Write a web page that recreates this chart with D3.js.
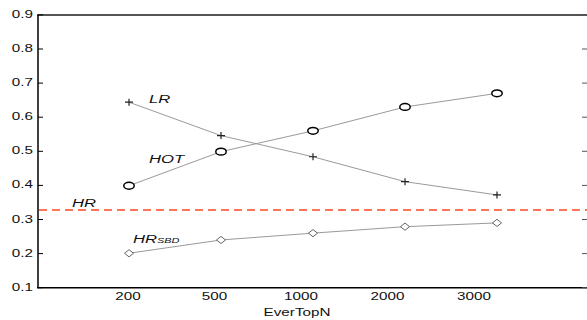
<!DOCTYPE html>
<html>
<head>
<meta charset="utf-8">
<script src="https://cdn.jsdelivr.net/npm/d3@7/dist/d3.min.js"></script>
<style>
  body { margin: 0; background: #fff; }
  svg { display: block; }
  text { font-family: "Liberation Sans", Arial, Helvetica, sans-serif; }
</style>
</head>
<body>
<script>
// EverTopN vs. value, four methods
const categories = ['200', '500', '1000', '2000', '3000']
const lrValues = [0.644, 0.546, 0.484, 0.411, 0.372]
const hotValues = [0.399, 0.499, 0.560, 0.630, 0.670]
const sbdValues = [0.201, 0.240, 0.260, 0.279, 0.290]
const hrValue = 0.328
const yTicks = [0.1, 0.2, 0.3, 0.4, 0.5, 0.6, 0.7, 0.8, 0.9]

const W = 587
const H = 320
const SX = 1.45 // the picture is stretched sideways, text too

const svg = d3.select('body').append('svg')
  .attr('width', W)
  .attr('height', H)

// index 1..5 are the points, 0 and 6 are the empty ends
const x = d3.scaleLinear().domain([0, 6]).range([37, 589])
const xLab = d3.scaleLinear().domain([1, 5]).range([128, 474])
const y = d3.scaleLinear().domain([0.1, 0.9]).range([287.7, 14.9])

function txt (px, py, s, size, anchor, italic) {
  return svg.append('text')
    .attr('transform', `translate(${px},${py}) scale(${SX},1)`)
    .attr('font-size', size + 'px')
    .attr('text-anchor', anchor || 'start')
    .attr('font-style', italic ? 'italic' : 'normal')
    .attr('fill', '#111')
    .text(s)
}

// frame
svg.append('line')
  .attr('x1', x(0)).attr('x2', W).attr('y1', y(0.9)).attr('y2', y(0.9))
  .attr('stroke', '#555').attr('stroke-width', 2)
svg.append('line')
  .attr('x1', x(0) + 1).attr('x2', x(0) + 1).attr('y1', y(0.9)).attr('y2', y(0.1))
  .attr('stroke', '#000').attr('stroke-width', 1.5)
svg.append('line')
  .attr('x1', x(0)).attr('x2', W).attr('y1', y(0.1)).attr('y2', y(0.1))
  .attr('stroke', '#000').attr('stroke-width', 1.5)

// y ticks: inside on the left, and on the right edge
yTicks.forEach((t) => {
  svg.append('line')
    .attr('x1', x(0) + 1).attr('x2', x(0) + 6).attr('y1', y(t)).attr('y2', y(t))
    .attr('stroke', '#000').attr('stroke-width', 1)
  svg.append('line')
    .attr('x1', W - 5).attr('x2', W).attr('y1', y(t)).attr('y2', y(t))
    .attr('stroke', '#555').attr('stroke-width', 1)
  txt(33, y(t) + 3, t.toFixed(1), 10.5, 'end')
})

// x tick labels and title
categories.forEach((c, i) => {
  txt(xLab(i + 1), 300, c, 10.5, 'middle')
})
txt(297, 316, 'EverTopN', 10.5, 'middle')

// HR baseline
svg.append('line')
  .attr('x1', x(0) + 2).attr('x2', W).attr('y1', y(hrValue)).attr('y2', y(hrValue))
  .attr('stroke', '#ff4a26').attr('stroke-width', 1.4)
  .attr('stroke-dasharray', '8,5')

const line = d3.line()
  .x((d, i) => x(i + 1))
  .y((d) => y(d))

const series = [
  { name: 'LR', values: lrValues, marker: 'plus' },
  { name: 'HOT', values: hotValues, marker: 'circle' },
  { name: 'SBD', values: sbdValues, marker: 'diamond' }
]

series.forEach((s) => {
  svg.append('path')
    .datum(s.values)
    .attr('d', line)
    .attr('fill', 'none')
    .attr('stroke', '#9a9a9a')
    .attr('stroke-width', 1)

  const g = svg.selectAll('.m-' + s.name)
    .data(s.values)
    .enter()
    .append('g')
    .attr('class', 'm-' + s.name)
    .attr('transform', (d, i) => `translate(${x(i + 1)},${y(d)})`)

  if (s.marker === 'plus') {
    g.append('path')
      .attr('d', 'M-4,0H4M0,-3.5V3.5')
      .attr('stroke', '#222').attr('stroke-width', 1.2)
  } else if (s.marker === 'circle') {
    g.append('ellipse')
      .attr('rx', 5.2).attr('ry', 3.4)
      .attr('fill', '#fff').attr('stroke', '#000').attr('stroke-width', 1.5)
  } else {
    g.append('path')
      .attr('d', 'M-4.5,0L0,-3.6L4.5,0L0,3.6Z')
      .attr('fill', '#fff').attr('stroke', '#666').attr('stroke-width', 1)
  }
})

// series names
txt(x(1) + 20, y(lrValues[0]) + 0.5, 'LR', 11.5, 'start', true)
txt(x(1) + 20, y(hotValues[0]) - 23, 'HOT', 11.5, 'start', true)
txt(72, y(hrValue) - 3, 'HR', 11.5, 'start', true)
const sbd = txt(x(1) + 4, y(sbdValues[0]) - 10.5, 'HR', 11.5, 'start', true)
sbd.append('tspan').attr('font-size', '7.5px').text('SBD')
</script>
</body>
</html>
